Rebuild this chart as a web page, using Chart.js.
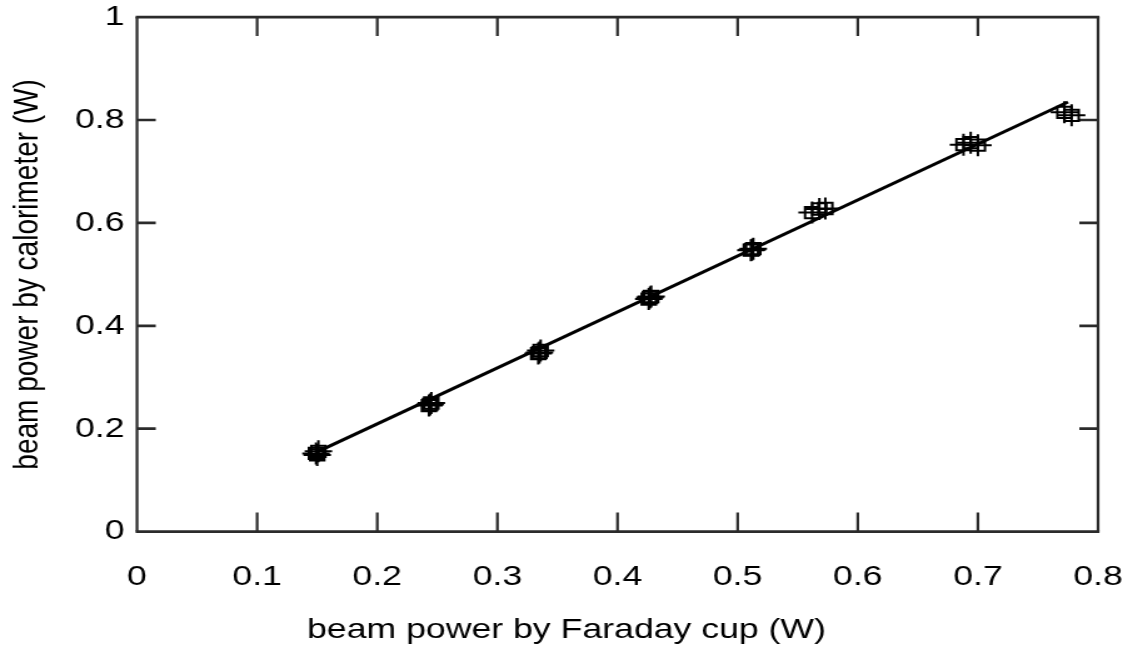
<!DOCTYPE html>
<html>
<head>
<meta charset="utf-8">
<script src="https://cdn.jsdelivr.net/npm/chart.js@4"></script>
<style>
  html, body { margin: 0; padding: 0; background: #ffffff; overflow: hidden; }
  #wrap { width: 906px; height: 659px; transform: scaleX(1.2506); transform-origin: 0 0; }
  canvas { display: block; }
</style>
</head>
<body>
<div id="wrap"><canvas id="c" width="906" height="659"></canvas></div>
<script>
// ---- data ----
const fcPower  = [0.149, 0.151, 0.150, 0.243, 0.245, 0.244, 0.334, 0.336, 0.335, 0.426, 0.428, 0.427,
                  0.511, 0.513, 0.512, 0.562, 0.568, 0.573, 0.688, 0.694, 0.700, 0.772, 0.778];
const calPower = [0.152, 0.156, 0.149, 0.245, 0.250, 0.247, 0.346, 0.352, 0.348, 0.452, 0.457, 0.455,
                  0.547, 0.550, 0.548, 0.620, 0.627, 0.628, 0.752, 0.756, 0.751, 0.815, 0.809];
const fitX = [0.15, 0.775];
const fitY = [0.155, 0.835];
const xTickValues = [0, 0.1, 0.2, 0.3, 0.4, 0.5, 0.6, 0.7, 0.8];
const xTickLabels = ['0', '0.1', '0.2', '0.3', '0.4', '0.5', '0.6', '0.7', '0.8'];
const yTickValues = [0, 0.2, 0.4, 0.6, 0.8, 1];
const yTickLabels = ['0', '0.2', '0.4', '0.6', '0.8', '1'];
const xTitle = 'beam power by Faraday cup (W)';
const yTitle = 'beam power by calorimeter (W)';

const FONT = "'Liberation Sans', Arial, Helvetica, sans-serif";
const points = fcPower.map((v, i) => ({ x: v, y: calPower[i] }));
const fitLine = fitX.map((v, i) => ({ x: v, y: fitY[i] }));

const frameTicks = {
  id: 'frameTicks',
  beforeDatasetsDraw(chart) {
    const { ctx, chartArea: a, scales: { x, y } } = chart;
    ctx.save();
    ctx.strokeStyle = '#2b2b2b';
    ctx.lineCap = 'butt';
    ctx.lineWidth = 2.7;
    ctx.beginPath();
    ctx.moveTo(a.left - 1.1, a.top); ctx.lineTo(a.right + 1.1, a.top);
    ctx.moveTo(a.left - 1.1, a.bottom); ctx.lineTo(a.right + 1.1, a.bottom);
    yTickValues.forEach(v => {
      const py = y.getPixelForValue(v);
      ctx.moveTo(a.left, py); ctx.lineTo(a.left + 15, py);
      ctx.moveTo(a.right, py); ctx.lineTo(a.right - 15, py);
    });
    ctx.stroke();
    ctx.lineWidth = 2.2;
    ctx.beginPath();
    ctx.moveTo(a.left, a.top); ctx.lineTo(a.left, a.bottom);
    ctx.moveTo(a.right, a.top); ctx.lineTo(a.right, a.bottom);
    xTickValues.forEach(v => {
      const px = x.getPixelForValue(v);
      ctx.moveTo(px, a.bottom); ctx.lineTo(px, a.bottom - 19);
      ctx.moveTo(px, a.top); ctx.lineTo(px, a.top + 19);
    });
    ctx.stroke();
    ctx.restore();
  }
};

new Chart(document.getElementById('c'), {
  type: 'scatter',
  data: {
    datasets: [
      {
        type: 'line', data: fitLine, showLine: true, borderColor: '#000', borderWidth: 3,
        pointRadius: 0, fill: false, order: 0
      },
      {
        data: points, pointStyle: 'rect', pointRadius: 8, pointBorderWidth: 2,
        pointBorderColor: '#000', pointBackgroundColor: 'rgba(0,0,0,0)', order: 1
      },
      {
        data: points, pointStyle: 'cross', pointRadius: 11, pointBorderWidth: 2,
        pointBorderColor: '#000', order: 2
      }
    ]
  },
  options: {
    responsive: false,
    devicePixelRatio: 1,
    animation: false,
    events: [],
    layout: { padding: { top: 17, right: 0, bottom: 0, left: 0 } },
    plugins: {
      legend: { display: false },
      tooltip: { enabled: false },
      title: {
        display: true, position: 'bottom', text: xTitle, color: '#000',
        font: { family: FONT, size: 28.5, weight: 'normal', lineHeight: 1.2 },
        padding: { top: 0, bottom: 12 }
      }
    },
    scales: {
      x: {
        type: 'linear', position: 'bottom', min: 0, max: 0.8,
        afterBuildTicks: s => { s.ticks = xTickValues.map(v => ({ value: v })); },
        afterFit: s => { s.height = 81.2; },
        grid: { display: false, drawTicks: true, tickLength: 28 },
        border: { display: false },
        ticks: {
          autoSkip: false, maxRotation: 0, padding: 0, color: '#000',
          font: { family: FONT, size: 28.5 },
          callback: (v, i) => xTickLabels[i]
        }
      },
      y: {
        type: 'linear', position: 'left', min: 0, max: 1,
        afterBuildTicks: s => { s.ticks = yTickValues.map(v => ({ value: v })); },
        afterFit: s => { s.width = 109.55; },
        grid: { display: false, drawTicks: true, tickLength: 10 },
        border: { display: false },
        ticks: {
          autoSkip: false, padding: 0, color: '#000',
          font: { family: FONT, size: 28.5 },
          callback: (v, i) => yTickLabels[i]
        },
        title: {
          display: true, text: yTitle, color: '#000',
          font: { family: FONT, size: 28, lineHeight: 1.2 },
          padding: { top: 5.6, bottom: 0 }
        }
      },
      y2: {
        type: 'linear', position: 'right', min: 0, max: 1, display: true,
        afterFit: s => { s.width = 28; },
        grid: { display: false, drawTicks: false },
        border: { display: false },
        ticks: { display: false }
      }
    }
  },
  plugins: [frameTicks]
});
</script>
</body>
</html>
